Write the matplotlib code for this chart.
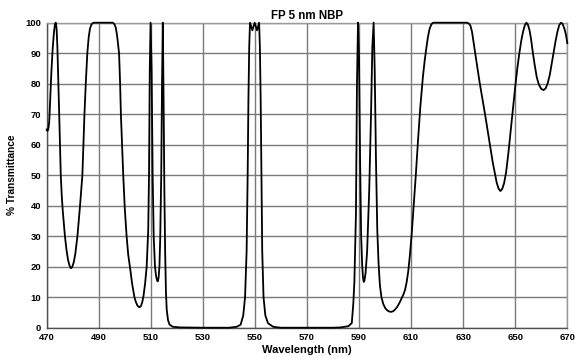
import matplotlib
matplotlib.use("Agg")
import matplotlib.pyplot as plt

# values
wavelength_nm = [
    470.0, 470.3, 470.7, 471.0, 471.4, 471.8, 472.3, 472.8, 473.2, 473.5,
    473.8, 474.1, 474.5, 474.8, 475.1, 475.4, 475.8, 476.2, 477.0, 477.6,
    478.2, 478.8, 479.3, 479.8, 480.4, 481.0, 481.8, 482.8, 483.7, 484.1,
    484.5, 485.0, 485.6, 486.1, 486.6, 487.2, 488.0, 495.4, 496.0, 496.5,
    497.0, 497.4, 497.8, 498.2, 498.5, 499.0, 499.4, 500.0, 500.7, 501.3,
    502.0, 502.8, 503.7, 504.3, 504.9, 505.6, 506.2, 506.7, 507.2, 507.8,
    508.4, 509.0, 509.3, 509.6, 509.9, 510.3, 510.7, 511.1, 511.6, 512.0,
    512.4, 512.7, 513.0, 513.3, 513.6, 514.0, 514.3, 514.6, 514.9, 515.2,
    515.5, 515.8, 516.1, 516.6, 517.2, 518.5, 521.0, 530.0, 540.0, 543.0,
    544.5, 545.5, 546.2, 546.8, 547.2, 547.5, 547.8, 548.1, 549.0, 549.9,
    550.8, 551.6, 551.9, 552.2, 552.5, 552.8, 553.3, 554.0, 555.0, 557.0,
    560.0, 580.0, 583.0, 585.9, 587.2, 587.8, 588.2, 588.8, 589.2, 589.6,
    590.0, 590.4, 590.8, 591.2, 591.5, 591.8, 592.1, 592.5, 593.1, 593.9,
    594.6, 595.1, 595.6, 596.0, 596.5, 597.0, 597.5, 598.0, 598.6, 599.3,
    600.0, 600.8, 601.6, 602.3, 603.1, 603.9, 604.7, 605.5, 606.3, 607.0,
    607.7, 608.3, 608.9, 609.5, 610.2, 611.0, 611.8, 612.7, 613.5, 614.5,
    615.2, 615.9, 616.5, 617.1, 617.8, 618.5, 631.5, 632.2, 632.8, 633.4,
    634.0, 634.6, 635.5, 636.4, 638.4, 640.3, 641.4, 642.3, 642.9, 643.6,
    644.3, 645.0, 645.7, 646.5, 647.4, 648.3, 649.2, 650.0, 650.8, 651.5,
    652.3, 653.0, 653.7, 654.3, 654.9, 655.5, 656.1, 656.8, 657.5, 658.3,
    659.1, 660.0, 660.9, 661.7, 662.5, 663.3, 664.0, 664.8, 665.5, 666.2,
    666.9, 667.6, 668.2, 668.9, 669.5, 670.0,
]
transmittance_pct = [
    65.0, 64.5, 65.5, 68.0, 76.0, 84.0, 91.6, 97.0, 99.6, 100.0,
    98.0, 92.0, 80.0, 70.0, 60.0, 50.0, 43.0, 38.0, 30.0, 25.5,
    22.2, 20.3, 19.5, 19.9, 21.5, 24.3, 30.0, 40.0, 50.0, 60.0,
    70.0, 80.0, 90.0, 95.0, 98.0, 99.5, 100.0, 100.0, 99.5, 98.5,
    96.0, 93.0, 90.0, 80.0, 70.0, 59.0, 50.0, 39.0, 30.0, 24.0,
    19.8, 14.5, 10.0, 8.3, 7.2, 6.7, 7.1, 8.3, 10.5, 14.5,
    20.0, 32.0, 50.0, 85.0, 100.0, 85.0, 50.0, 30.0, 20.0, 17.0,
    15.5, 15.2, 16.5, 20.0, 29.0, 50.0, 80.0, 100.0, 75.0, 45.0,
    25.0, 12.0, 6.0, 2.5, 1.0, 0.3, 0.1, 0.0, 0.0, 0.3,
    1.0, 4.0, 10.0, 25.0, 50.0, 75.0, 92.0, 100.0, 97.5, 100.0,
    97.5, 100.0, 92.0, 75.0, 50.0, 25.0, 10.0, 4.0, 1.5, 0.3,
    0.0, 0.0, 0.1, 0.5, 1.5, 8.0, 15.0, 37.0, 80.0, 100.0,
    88.0, 55.0, 30.0, 20.5, 16.5, 15.0, 15.5, 18.0, 25.0, 45.0,
    70.0, 92.0, 100.0, 85.0, 55.0, 32.0, 21.0, 14.0, 10.0, 7.8,
    6.5, 5.7, 5.3, 5.2, 5.4, 6.0, 6.9, 8.1, 9.5, 10.8,
    12.5, 15.0, 18.5, 23.5, 30.5, 40.0, 50.0, 62.0, 72.0, 82.0,
    87.5, 92.0, 95.5, 98.0, 99.5, 100.0, 100.0, 99.7, 99.0, 97.0,
    93.5, 90.0, 85.0, 80.0, 70.0, 60.0, 54.0, 50.0, 47.5, 45.6,
    44.8, 45.5, 47.3, 51.0, 57.5, 65.0, 72.5, 79.0, 85.0, 89.5,
    94.0, 97.0, 99.2, 100.0, 99.3, 97.5, 94.5, 90.0, 86.0, 82.0,
    79.7, 78.3, 77.9, 78.5, 80.2, 83.0, 86.5, 90.5, 94.0, 97.0,
    99.2, 100.0, 99.6, 98.0, 96.0, 93.3,
]
x_ticks = [470, 490, 510, 530, 550, 570, 590, 610, 630, 650, 670]
y_ticks = [0, 10, 20, 30, 40, 50, 60, 70, 80, 90, 100]

plt.rcParams['font.family'] = ['Liberation Sans', 'DejaVu Sans']
plt.rcParams['font.weight'] = 'bold'

fig = plt.figure(figsize=(5.81, 3.58), dpi=100)
ax = fig.add_axes([0.0804, 0.0846, 0.8960, 0.8520])

ax.plot(wavelength_nm, transmittance_pct, color='black', lw=1.3,
        solid_joinstyle='round', clip_on=False, zorder=3)

ax.set_xlim(470, 670)
ax.set_ylim(0, 100)
ax.set_xticks(x_ticks)
ax.set_yticks(y_ticks)
ax.tick_params(length=0, labelsize=6.8, pad=4)
for lbl in ax.get_xticklabels() + ax.get_yticklabels():
    lbl.set_fontweight('bold')

ax.grid(True, color='#7a7a7a', lw=1.0)
for side in ['top', 'right']:
    ax.spines[side].set_color('#9a9a9a')
    ax.spines[side].set_linewidth(1.0)
for side in ['left', 'bottom']:
    ax.spines[side].set_color('#505050')
    ax.spines[side].set_linewidth(1.0)

ax.set_title('FP 5 nm NBP', fontsize=8.3, fontweight='bold', pad=3)
ax.set_xlabel('Wavelength (nm)', fontsize=8, fontweight='bold', labelpad=2)
ax.set_ylabel('% Transmittance', fontsize=7.3, fontweight='bold', labelpad=6)

plt.savefig('out.png', dpi=100)
plt.close(fig)
